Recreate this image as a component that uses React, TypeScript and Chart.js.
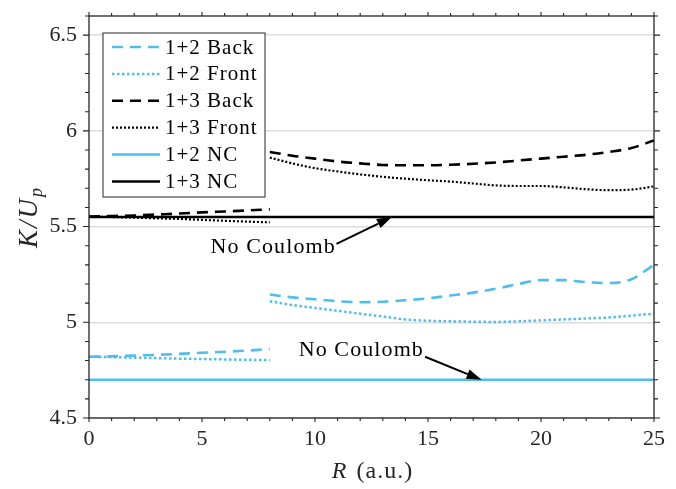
import React, { useEffect, useRef } from 'react';
import { Chart, registerables } from 'chart.js';
Chart.register(...registerables);

// ---- data ----
const R_NEAR = [0, 1, 2, 3, 4, 5, 6, 7, 8];
const R_FAR = [8, 9, 10, 11, 12, 13, 14, 15, 16, 17, 18, 19, 20, 21, 22, 23, 24, 25];
const R_NC = [0, 25];

const back12Near = [4.82, 4.822, 4.826, 4.83, 4.835, 4.841, 4.846, 4.852, 4.86];
const front12Near = [4.82, 4.818, 4.815, 4.813, 4.81, 4.808, 4.806, 4.804, 4.803];
const back13Near = [5.553, 5.555, 5.558, 5.563, 5.568, 5.574, 5.579, 5.584, 5.59];
const front13Near = [5.553, 5.55, 5.547, 5.543, 5.54, 5.535, 5.53, 5.526, 5.522];

const back12Far = [5.145, 5.13, 5.12, 5.11, 5.105, 5.107, 5.115, 5.125, 5.14, 5.155, 5.175, 5.2, 5.22, 5.22, 5.21, 5.205, 5.225, 5.3];
const front12Far = [5.11, 5.09, 5.075, 5.06, 5.045, 5.03, 5.015, 5.008, 5.005, 5.003, 5.002, 5.005, 5.01, 5.015, 5.02, 5.025, 5.035, 5.045];
const back13Far = [5.89, 5.87, 5.855, 5.84, 5.83, 5.822, 5.82, 5.82, 5.823, 5.828, 5.835, 5.845, 5.855, 5.865, 5.875, 5.89, 5.91, 5.95];
const front13Far = [5.86, 5.83, 5.805, 5.788, 5.773, 5.76, 5.75, 5.742, 5.735, 5.725, 5.715, 5.712, 5.712, 5.705, 5.695, 5.69, 5.693, 5.71];

const nc12 = [4.7, 4.7];
const nc13 = [5.55, 5.55];

const X_TICKS = [0, 5, 10, 15, 20, 25];
const Y_TICKS = [4.5, 5, 5.5, 6, 6.5];

// annotations: [text x, text y, arrow start x, y, arrow tip x, y]
const NOTE_13 = [8.15, 5.39, 10.95, 5.41, 13.4, 5.55];
const NOTE_12 = [12.05, 4.855, 14.87, 4.82, 17.37, 4.7];
const NOTE_TEXT = 'No Coulomb';

const LEGEND_LABELS = ['1+2 Back', '1+2 Front', '1+3 Back', '1+3 Front', '1+2 NC', '1+3 NC'];

const BLUE = '#4DBEEE';
const BLACK = '#000000';
const AXIS = '#262626';
const FONT = '"Liberation Serif", "Times New Roman", serif';

function joined(near: number[], far: number[]) {
  return [
    ...R_NEAR.map((x, i) => ({ x, y: near[i] })),
    { x: 8, y: null as any },
    ...R_FAR.map((x, i) => ({ x, y: far[i] })),
  ];
}

const STYLES = [
  { color: BLUE, dash: [11, 7], width: 2.6 },
  { color: BLUE, dash: [2.5, 2.5], width: 2.5 },
  { color: BLACK, dash: [11, 7], width: 2.6 },
  { color: BLACK, dash: [2, 2], width: 2.2 },
  { color: BLUE, dash: [] as number[], width: 2.5 },
  { color: BLACK, dash: [] as number[], width: 2.5 },
];

function setLS(ctx: any, v: string) {
  try { ctx.letterSpacing = v; } catch (e) { /* ignore */ }
}

const decor = {
  id: 'decor',
  afterDatasetsDraw(chart: any) {
    const ctx = chart.ctx as CanvasRenderingContext2D;
    const a = chart.chartArea;
    const xs = chart.scales.x;
    const ys = chart.scales.y;
    ctx.save();

    // frame
    ctx.strokeStyle = AXIS;
    ctx.lineWidth = 1.3;
    ctx.setLineDash([]);
    ctx.strokeRect(a.left, a.top, a.right - a.left, a.bottom - a.top);

    // ticks (outward)
    ctx.lineWidth = 1.1;
    ctx.beginPath();
    for (let v = 0; v <= 25; v += 1) {
      const px = xs.getPixelForValue(v);
      const L = v % 5 === 0 ? 4 : 3;
      ctx.moveTo(px, a.bottom); ctx.lineTo(px, a.bottom + L);
      ctx.moveTo(px, a.top); ctx.lineTo(px, a.top - L);
    }
    for (let i = 0; i <= 21; i++) {
      const v = 4.5 + i * 0.1;
      const py = ys.getPixelForValue(v);
      const L = i % 5 === 0 ? 6 : 4;
      ctx.moveTo(a.left, py); ctx.lineTo(a.left - L, py);
      ctx.moveTo(a.right, py); ctx.lineTo(a.right + L, py);
    }
    ctx.stroke();

    // annotations
    const note = (n: number[]) => {
      ctx.fillStyle = '#000';
      ctx.font = `22px ${FONT}`;
      setLS(ctx, '1.1px');
      ctx.textAlign = 'center';
      ctx.textBaseline = 'middle';
      ctx.fillText(NOTE_TEXT, xs.getPixelForValue(n[0]), ys.getPixelForValue(n[1]));
      setLS(ctx, '0px');
      const x0 = xs.getPixelForValue(n[2]), y0 = ys.getPixelForValue(n[3]);
      const x1 = xs.getPixelForValue(n[4]), y1 = ys.getPixelForValue(n[5]);
      const ang = Math.atan2(y1 - y0, x1 - x0);
      const hl = 15, hw = 5;
      const bx = x1 - hl * Math.cos(ang), by = y1 - hl * Math.sin(ang);
      ctx.strokeStyle = '#000';
      ctx.lineWidth = 2;
      ctx.beginPath();
      ctx.moveTo(x0, y0); ctx.lineTo(bx, by);
      ctx.stroke();
      ctx.beginPath();
      ctx.moveTo(x1, y1);
      ctx.lineTo(bx + hw * Math.sin(ang), by - hw * Math.cos(ang));
      ctx.lineTo(bx - hw * Math.sin(ang), by + hw * Math.cos(ang));
      ctx.closePath();
      ctx.fill();
    };
    note(NOTE_13);
    note(NOTE_12);

    // legend
    const lx = a.left + 14, ly = a.top + 17, lw = 162, lh = 164;
    ctx.fillStyle = '#fff';
    ctx.fillRect(lx, ly, lw, lh);
    ctx.strokeStyle = AXIS;
    ctx.lineWidth = 1;
    ctx.setLineDash([]);
    ctx.strokeRect(lx, ly, lw, lh);
    LEGEND_LABELS.forEach((lab, i) => {
      const ry = ly + 14 + i * 26.9;
      const st = STYLES[i];
      ctx.strokeStyle = st.color;
      ctx.lineWidth = st.width;
      ctx.setLineDash(st.dash);
      ctx.beginPath();
      ctx.moveTo(lx + 9, ry); ctx.lineTo(lx + 57, ry);
      ctx.stroke();
      ctx.setLineDash([]);
      ctx.fillStyle = '#000';
      ctx.font = `21px ${FONT}`;
      setLS(ctx, '1px');
      ctx.textAlign = 'left';
      ctx.textBaseline = 'middle';
      ctx.fillText(lab, lx + 62, ry + 1);
      setLS(ctx, '0px');
    });

    // axis titles
    ctx.fillStyle = '#262626';
    ctx.textBaseline = 'alphabetic';
    // x title
    const it = `italic 24px ${FONT}`, rm = `24px ${FONT}`;
    setLS(ctx, '1px');
    ctx.font = it; const wR = ctx.measureText('R').width;
    ctx.font = rm; const wRest = ctx.measureText(' (a.u.)').width;
    const cx = (a.left + a.right) / 2;
    const sx = cx - (wR + wRest) / 2;
    ctx.textAlign = 'left';
    ctx.font = it; ctx.fillText('R', sx, 478);
    ctx.font = rm; ctx.fillText(' (a.u.)', sx + wR + 2, 478);
    // y title
    ctx.save();
    ctx.translate(37, (a.top + a.bottom) / 2);
    ctx.rotate(-Math.PI / 2);
    setLS(ctx, '2px');
    const itY = `italic 27px ${FONT}`;
    ctx.font = itY; const wK = ctx.measureText('K/U').width;
    const sub = `italic 18px ${FONT}`;
    ctx.font = sub; const wp = ctx.measureText('p').width;
    const s0 = -(wK + wp) / 2;
    ctx.font = itY; ctx.fillText('K/U', s0, 0);
    ctx.font = sub; ctx.fillText('p', s0 + wK, 5);
    setLS(ctx, '0px');
    ctx.restore();

    ctx.restore();
  },
};

export default function App() {
  const ref = useRef<HTMLCanvasElement>(null);
  useEffect(() => {
    if (!ref.current) return;
    const mk = (label: string, data: any[], i: number) => ({
      label,
      data,
      borderColor: STYLES[i].color,
      borderDash: STYLES[i].dash,
      borderWidth: STYLES[i].width,
      pointRadius: 0,
      fill: false,
      tension: 0.4,
      cubicInterpolationMode: 'monotone' as const,
      spanGaps: false,
    });
    const chart = new Chart(ref.current, {
      type: 'line',
      data: {
        datasets: [
          mk('1+2 NC', R_NC.map((x, i) => ({ x, y: nc12[i] })), 4),
          mk('1+3 NC', R_NC.map((x, i) => ({ x, y: nc13[i] })), 5),
          mk('1+2 Back', joined(back12Near, back12Far), 0),
          mk('1+2 Front', joined(front12Near, front12Far), 1),
          mk('1+3 Back', joined(back13Near, back13Far), 2),
          mk('1+3 Front', joined(front13Near, front13Far), 3),
        ],
      },
      options: {
        animation: false,
        responsive: false,
        devicePixelRatio: 1,
        layout: { padding: { top: 16, right: 22, left: 0, bottom: 0 } },
        plugins: { legend: { display: false }, tooltip: { enabled: false } },
        scales: {
          x: {
            type: 'linear',
            min: 0,
            max: 25,
            afterBuildTicks: (s: any) => { s.ticks = X_TICKS.map((v) => ({ value: v })); },
            afterFit: (s: any) => { s.height = 71; s.paddingRight = 0; },
            grid: { display: false, drawTicks: false },
            border: { display: false },
            ticks: { font: { family: FONT, size: 22 }, color: '#262626', padding: 8, maxRotation: 0, callback: (v: any) => String(v) },
          },
          y: {
            type: 'linear',
            min: 4.5,
            max: 6.6,
            afterBuildTicks: (s: any) => { s.ticks = Y_TICKS.map((v) => ({ value: v })); },
            afterFit: (s: any) => { s.width = 89; s.paddingTop = 0; },
            grid: { color: '#dedede', lineWidth: 1.5, drawTicks: false },
            border: { display: false },
            ticks: { font: { family: FONT, size: 22 }, color: '#262626', padding: 12, callback: (v: any) => String(v) },
          },
        },
      },
      plugins: [decor],
    });
    return () => chart.destroy();
  }, []);
  return (
    <div style={{ position: 'fixed', left: 0, top: 0, width: 676, height: 489, background: '#fff' }}>
      <canvas ref={ref} width={676} height={489} style={{ display: 'block', width: 676, height: 489 }} />
    </div>
  );
}
